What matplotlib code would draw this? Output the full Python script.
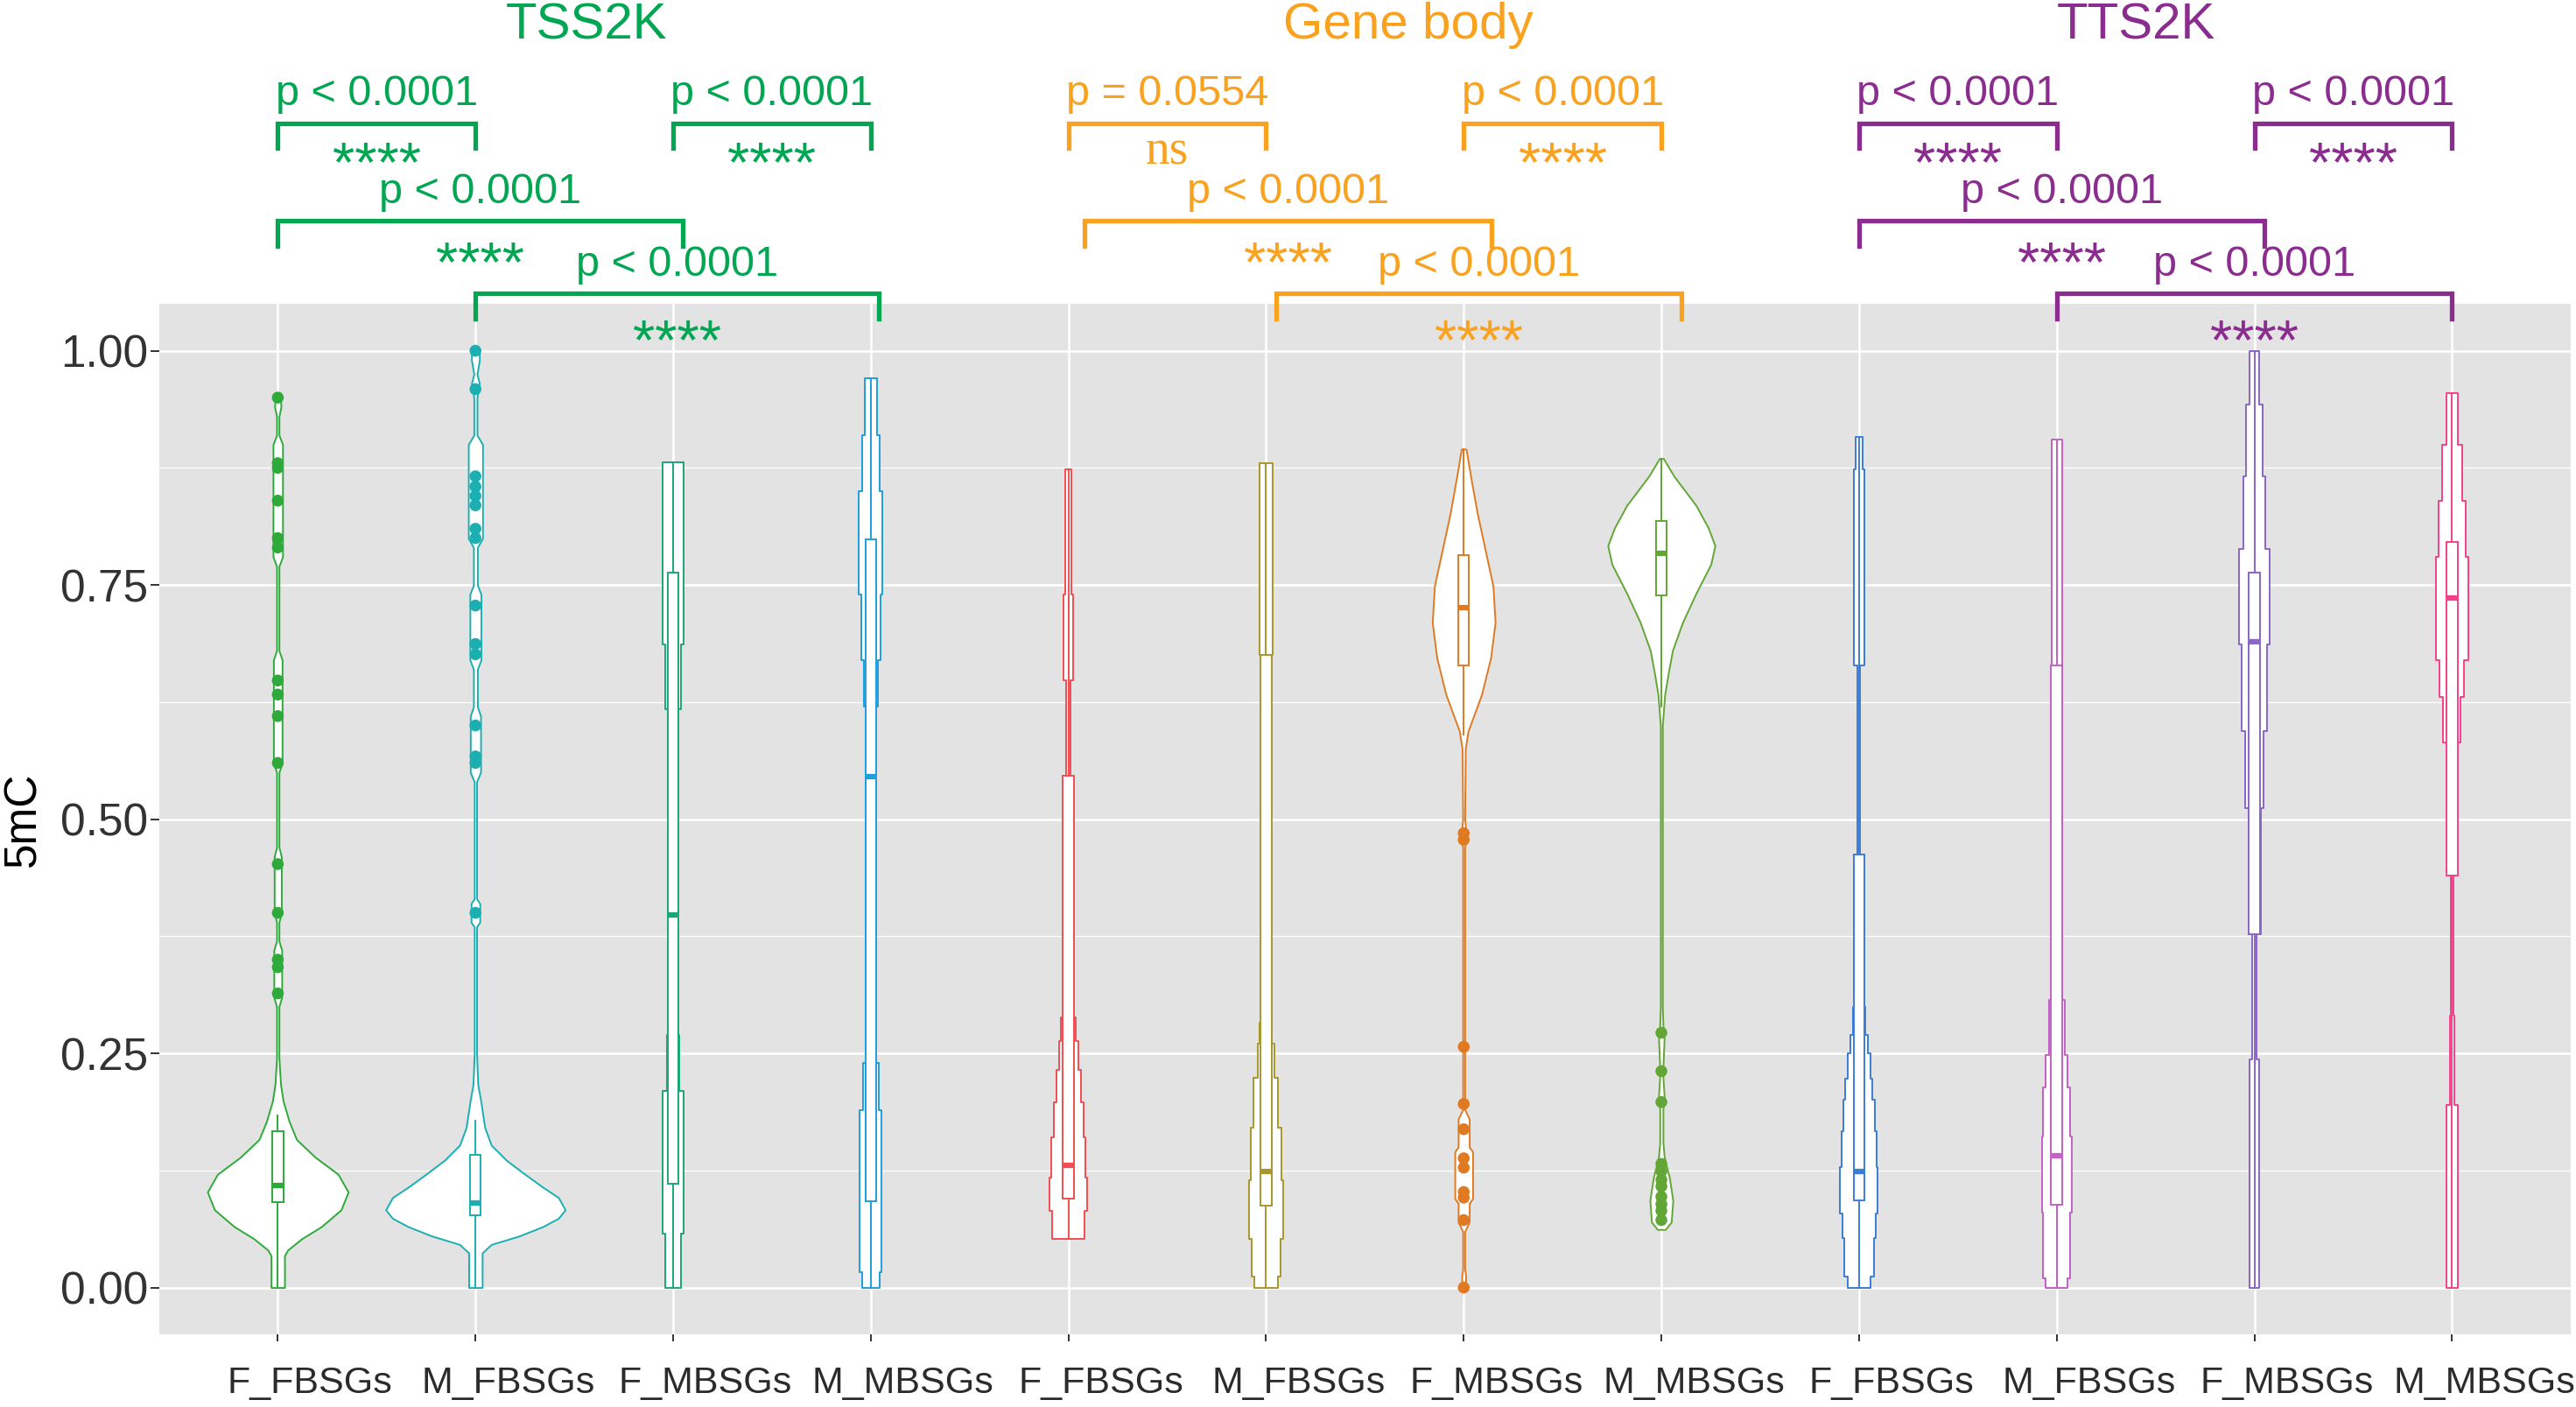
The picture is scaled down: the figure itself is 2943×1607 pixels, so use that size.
import matplotlib.pyplot as plt
import matplotlib.transforms as mtransforms
import numpy as np
from matplotlib.patches import Rectangle

plt.rcParams['font.family'] = ['Liberation Sans', 'DejaVu Sans']

# ---- data ----
groups = ['TSS2K', 'Gene body', 'TTS2K']
group_colors = ['#00A651', '#F8A21F', '#8B2C8F']
samples = ['F_FBSGs', 'M_FBSGs', 'F_MBSGs', 'M_MBSGs']
tick_labels = samples * 3
violin_colors = ['#2DAA3A', '#1BAFB2', '#1BA679', '#1E9FDC',
                 '#F04E52', '#A8972C', '#E07A22', '#62A635',
                 '#3B7ED6', '#C460C6', '#8A66C6', '#F2418C']


def stairs(edges, widths):
    # stepped violin outline -> (y, half width) points
    ys, ws = [], []
    for lo, hi, w in zip(edges[:-1], edges[1:], widths):
        ys += [lo, hi]
        ws += [w, w]
    return ys, ws


# violin outlines: y value and half width (x units)
tss_ff_y = [0.0, 0.034, 0.040, 0.052, 0.065, 0.083, 0.102, 0.121, 0.139, 0.158, 0.177,
            0.199, 0.217, 0.245, 0.30, 0.31, 0.36, 0.37, 0.39, 0.40, 0.46, 0.47, 0.55,
            0.56, 0.67, 0.68, 0.77, 0.78, 0.90, 0.91, 0.93, 0.94, 0.955]
tss_ff_w = [0.034, 0.034, 0.05, 0.12, 0.22, 0.32, 0.356, 0.305, 0.19, 0.095, 0.058,
            0.027, 0.014, 0.006, 0.006, 0.02, 0.02, 0.006, 0.006, 0.018, 0.018, 0.006, 0.006,
            0.022, 0.022, 0.006, 0.006, 0.024, 0.024, 0.006, 0.006, 0.016, 0.012]
tss_mf_y = [0.0, 0.037, 0.046, 0.055, 0.065, 0.074, 0.083, 0.096, 0.108, 0.121, 0.136,
            0.152, 0.171, 0.199, 0.217, 0.25, 0.385, 0.39, 0.41, 0.415, 0.54, 0.55, 0.61,
            0.62, 0.66, 0.67, 0.74, 0.75, 0.79, 0.80, 0.90, 0.91, 0.95, 0.965, 0.975, 0.99, 1.0]
tss_mf_w = [0.034, 0.034, 0.08, 0.22, 0.34, 0.42, 0.454, 0.42, 0.335, 0.25, 0.156,
            0.08, 0.047, 0.027, 0.012, 0.006, 0.006, 0.022, 0.022, 0.006, 0.006, 0.026, 0.026,
            0.01, 0.01, 0.028, 0.028, 0.01, 0.01, 0.036, 0.036, 0.008, 0.008, 0.02, 0.008, 0.02, 0.02]
tss_fm_y, tss_fm_w = stairs([0.0, 0.058, 0.21, 0.27, 0.617, 0.687, 0.881],
                            [0.042, 0.054, 0.031, 0.014, 0.042, 0.054])
tss_mm_y, tss_mm_w = stairs([0.0, 0.016, 0.189, 0.24, 0.62, 0.67, 0.74, 0.85, 0.91, 0.971],
                            [0.044, 0.055, 0.04, 0.015, 0.035, 0.05, 0.059, 0.044, 0.03])
gb_ff_y, gb_ff_w = stairs([0.052, 0.082, 0.117, 0.16, 0.198, 0.232, 0.263, 0.288, 0.30, 0.648, 0.74, 0.873],
                          [0.083, 0.094, 0.087, 0.075, 0.062, 0.049, 0.037, 0.027, 0.012, 0.025, 0.017])
gb_mf_y, gb_mf_w = stairs([0.0, 0.012, 0.052, 0.115, 0.171, 0.224, 0.26, 0.283, 0.30, 0.675, 0.88],
                          [0.061, 0.073, 0.087, 0.079, 0.062, 0.044, 0.031, 0.02, 0.012, 0.034])
gb_fm_y = [0.0, 0.012, 0.02, 0.06, 0.07, 0.09, 0.095, 0.145, 0.15, 0.18, 0.19, 0.25, 0.265,
           0.47, 0.48, 0.50, 0.575, 0.594, 0.633, 0.672, 0.71, 0.749, 0.788, 0.827, 0.866, 0.895]
gb_fm_w = [0.01, 0.01, 0.005, 0.005, 0.028, 0.028, 0.045, 0.045, 0.028, 0.028, 0.005, 0.005, 0.005,
           0.005, 0.014, 0.005, 0.008, 0.022, 0.09, 0.136, 0.159, 0.148, 0.108, 0.068, 0.035, 0.012]
gb_mm_y = [0.062, 0.07, 0.093, 0.118, 0.13, 0.14, 0.155, 0.19, 0.205, 0.225, 0.235, 0.265, 0.28,
           0.30, 0.60, 0.633, 0.656, 0.68, 0.71, 0.741, 0.772, 0.792, 0.811, 0.835, 0.866, 0.885]
gb_mm_w = [0.02, 0.05, 0.058, 0.04, 0.025, 0.014, 0.008, 0.008, 0.014, 0.008, 0.008, 0.014, 0.008,
           0.005, 0.005, 0.017, 0.035, 0.056, 0.107, 0.175, 0.25, 0.271, 0.237, 0.175, 0.064, 0.01]
tts_ff_y, tts_ff_w = stairs([0.0, 0.012, 0.053, 0.079, 0.129, 0.167, 0.201, 0.223, 0.25, 0.27, 0.30, 0.664, 0.873, 0.908],
                            [0.058, 0.074, 0.083, 0.095, 0.09, 0.081, 0.069, 0.058, 0.045, 0.03, 0.007, 0.028, 0.017])
tts_mf_y, tts_mf_w = stairs([0.0, 0.01, 0.08, 0.161, 0.214, 0.248, 0.307, 0.664, 0.905],
                            [0.056, 0.069, 0.075, 0.068, 0.056, 0.04, 0.008, 0.027])
tts_fm_y, tts_fm_w = stairs([0.0, 0.244, 0.377, 0.512, 0.594, 0.687, 0.788, 0.866, 0.943, 1.0],
                            [0.025, 0.01, 0.031, 0.045, 0.063, 0.076, 0.056, 0.042, 0.024])
tts_mm_y, tts_mm_w = stairs([0.0, 0.195, 0.29, 0.582, 0.63, 0.67, 0.78, 0.84, 0.9, 0.955],
                            [0.029, 0.012, 0.006, 0.045, 0.062, 0.082, 0.068, 0.05, 0.03])

violin_y = [tss_ff_y, tss_mf_y, tss_fm_y, tss_mm_y, gb_ff_y, gb_mf_y, gb_fm_y, gb_mm_y,
            tts_ff_y, tts_mf_y, tts_fm_y, tts_mm_y]
violin_w = [tss_ff_w, tss_mf_w, tss_fm_w, tss_mm_w, gb_ff_w, gb_mf_w, gb_fm_w, gb_mm_w,
            tts_ff_w, tts_mf_w, tts_fm_w, tts_mm_w]

# boxplot stats
box_q1 = [0.091, 0.077, 0.111, 0.092, 0.095, 0.087, 0.664, 0.739, 0.093, 0.088, 0.377, 0.44]
box_med = [0.109, 0.090, 0.3975, 0.545, 0.13, 0.124, 0.726, 0.784, 0.124, 0.141, 0.689, 0.736]
box_q3 = [0.167, 0.142, 0.763, 0.799, 0.546, 0.675, 0.782, 0.818, 0.462, 0.664, 0.763, 0.796]
whisker_lo = [0.0, 0.0, 0.0, 0.0, 0.052, 0.0, 0.59, 0.62, 0.0, 0.0, 0.0, 0.0]
whisker_hi = [0.184, 0.178, 0.881, 0.971, 0.873, 0.88, 0.895, 0.885, 0.908, 0.905, 1.0, 0.955]
outliers = [
    [0.95, 0.88, 0.875, 0.84, 0.80, 0.79, 0.648, 0.633, 0.61, 0.56, 0.452, 0.40, 0.35, 0.342, 0.314],
    [1.0, 0.959, 0.866, 0.855, 0.845, 0.835, 0.81, 0.80, 0.728, 0.687, 0.676, 0.60, 0.567, 0.56, 0.40],
    [], [], [], [],
    [0.485, 0.478, 0.257, 0.196, 0.169, 0.138, 0.128, 0.102, 0.096, 0.072, 0.0],
    [0.272, 0.231, 0.198, 0.132, 0.124, 0.115, 0.108, 0.097, 0.089, 0.082, 0.072],
    [], [], [], [],
]

# comparison brackets
bracket_x1 = [1, 3, 1, 2, 5, 7, 5.08, 6.05, 9, 11, 9, 10]
bracket_x2 = [2, 4, 3.05, 4.04, 6, 8, 7.14, 8.1, 10, 12, 11.05, 12]
bracket_y = [1.243, 1.243, 1.139, 1.061] * 3
star_top = [1.225, 1.225, 1.118, 1.035] * 3
p_labels = ['p < 0.0001'] * 4 + ['p = 0.0554'] + ['p < 0.0001'] * 7
sig_labels = ['****'] * 4 + ['ns'] + ['****'] * 7
title_x = [2.56, 6.72, 10.4]

# ---- figure ----
fig = plt.figure(figsize=(29.43, 16.07), dpi=100)
ax = fig.add_axes([0.0618, 0.0516, 0.9361, 0.7324])
ax.set_facecolor('#E3E3E3')
for s in ax.spines.values():
    s.set_visible(False)
ax.set_axisbelow(True)

xs = np.arange(1, 13)
box_w = 0.055
for i, x in enumerate(xs):
    c = violin_colors[i]
    y = np.array(violin_y[i])
    w = np.array(violin_w[i])
    ax.fill_betweenx(y, x - w, x + w, facecolor='white', edgecolor=c, lw=1.4, zorder=2)
    ax.plot([x, x], [box_q3[i], whisker_hi[i]], color=c, lw=1.4, zorder=3)
    ax.plot([x, x], [whisker_lo[i], box_q1[i]], color=c, lw=1.4, zorder=3)
    ax.add_patch(Rectangle((x - box_w / 2, box_q1[i]), box_w, box_q3[i] - box_q1[i],
                           facecolor='white', edgecolor=c, lw=1.4, zorder=3))
    ax.plot([x - box_w / 2, x + box_w / 2], [box_med[i], box_med[i]], color=c, lw=4.5,
            solid_capstyle='butt', zorder=4)
    if outliers[i]:
        ax.scatter([x] * len(outliers[i]), outliers[i], s=95, color=c, edgecolors='none', zorder=5)

# brackets and labels
leg = 0.027
for i in range(len(bracket_x1)):
    c = group_colors[i // 4]
    x1, x2, yb = bracket_x1[i], bracket_x2[i], bracket_y[i]
    ax.plot([x1, x1, x2, x2], [yb - leg, yb, yb, yb - leg], color=c, lw=3.8,
            clip_on=False, solid_joinstyle='miter', zorder=6)
    xm = (x1 + x2) / 2
    ax.text(xm, yb + 0.019, p_labels[i], color=c, fontsize=35, ha='center', va='baseline')
    if sig_labels[i] == 'ns':
        ax.text(xm, yb - 0.044, 'ns', color=c, fontsize=40, ha='center', va='baseline',
                family=['Liberation Serif', 'DejaVu Serif'])
    else:
        ax.text(xm, star_top[i], sig_labels[i], color=c, fontsize=47, ha='center', va='top',
                zorder=6)

for g, name in enumerate(groups):
    ax.text(title_x[g], 1.333, name, color=group_colors[g], fontsize=42, ha='center', va='baseline')

ax.set_xlim(0.4, 12.6)
ax.set_ylim(-0.05, 1.05)
ax.set_xticks(xs)
ax.set_xticklabels(tick_labels)
ax.set_yticks([0, 0.25, 0.5, 0.75, 1.0])
ax.set_yticklabels(['0.00', '0.25', '0.50', '0.75', '1.00'])
ax.set_yticks([0.125, 0.375, 0.625, 0.875], minor=True)
ax.grid(True, which='major', color='white', lw=1.8)
ax.grid(True, which='minor', axis='y', color='white', lw=0.9)
ax.tick_params(axis='x', length=6, width=1.4, color='#333333', pad=20,
               labelsize=31, labelcolor='#2B2B2B')
ax.tick_params(axis='y', length=7, width=1.4, color='#333333', pad=2,
               labelsize=37, labelcolor='#333333')
ax.tick_params(which='minor', length=0)
ax.set_ylabel('5mC', fontsize=37, color='black', labelpad=13)

# x labels sit a little right of their ticks in the original
shift = mtransforms.ScaledTranslation(0.37, 0, fig.dpi_scale_trans)
for lab in ax.get_xticklabels():
    lab.set_transform(lab.get_transform() + shift)

fig.savefig('out.png', dpi=100)
